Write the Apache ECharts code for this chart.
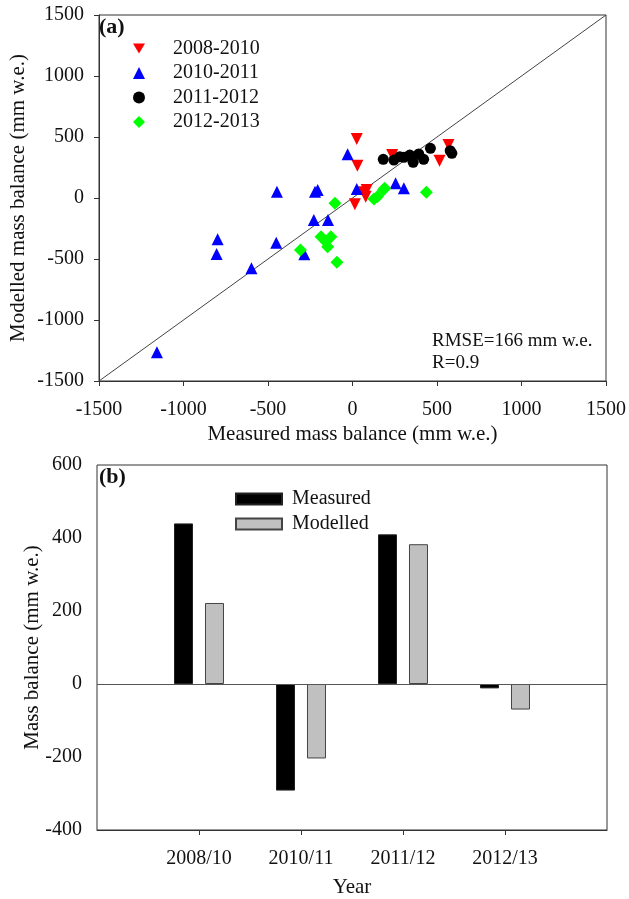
<!DOCTYPE html>
<html>
<head>
<meta charset="utf-8">
<script src="https://cdn.jsdelivr.net/npm/echarts@6/dist/echarts.min.js"></script>
<style>
  html, body { margin: 0; padding: 0; background: #fff; }
  #chart { width: 629px; height: 899px; }
</style>
</head>
<body>
<div id="chart"></div>
<script>
// (a) measured vs modelled points, [measured, modelled] in mm w.e.
const pts2008 = [[25, 484], [29, 265], [84, 66], [68, 47], [78, 11], [14, -52], [235, 352], [515, 306], [568, 434]];
const pts2010 = [[-1157, -1265], [-804, -459], [-798, -339], [-598, -576], [-451, -366], [-447, 52], [-285, -461],
  [-229, -180], [-145, -180], [-222, 52], [-206, 66], [-29, 358], [25, 74], [255, 121], [304, 80]];
const pts2011 = [[182, 317], [245, 311], [280, 339], [304, 334], [339, 352], [359, 293], [392, 361], [421, 317],
  [461, 407], [578, 388], [588, 366]];
const pts2012 = [[-104, -43], [-186, -317], [-128, -317], [-157, -358], [-147, -399], [-308, -426], [-92, -527],
  [127, -8], [147, 11], [190, 80], [182, 66], [437, 48]];
const oneToOne = [[-1500, -1500], [1500, 1500]];

// (b) annual mass balance
const years = ['', '2008/10', '2010/11', '2011/12', '2012/13', ''];
const measured = [null, 440, -292, 410, -12, null];
const modelled = [null, 222, -204, 383, -70, null];

const font = 'Liberation Serif';
const ink = '#111';

const chart = echarts.init(document.getElementById('chart'));

// fresh axis object each time so nothing is shared between axes
function axis(extra, labelMargin) {
  return Object.assign({
    axisLine: { onZero: false, lineStyle: { color: '#333' } },
    axisTick: { inside: false, length: 5, lineStyle: { color: '#333' } },
    splitLine: { show: false },
    axisLabel: { fontFamily: font, fontSize: 20, color: ink, margin: labelMargin, formatter: (v) => String(v) },
    nameLocation: 'middle',
    nameMoveOverlap: false,
    nameTextStyle: { fontFamily: font, fontSize: 21, color: ink }
  }, extra);
}

const option = {
  animation: false,
  backgroundColor: '#fff',
  textStyle: { fontFamily: font },
  grid: [
    { left: 97, top: 15, width: 510, height: 366, show: true, borderColor: '#333', borderWidth: 1 },
    { left: 97, top: 465, width: 510, height: 365, show: true, borderColor: '#333', borderWidth: 1 }
  ],
  xAxis: [
    axis({ type: 'value', gridIndex: 0, min: -1500, max: 1500, interval: 500,
      name: 'Measured mass balance (mm w.e.)', nameGap: 43 }, 19),
    axis({ type: 'category', gridIndex: 1, data: years, boundaryGap: false,
      axisTick: { length: 5, lineStyle: { color: '#333' }, interval: (i) => i > 0 && i < 5 },
      name: 'Year', nameGap: 47 }, 19)
  ],
  yAxis: [
    axis({ type: 'value', gridIndex: 0, min: -1500, max: 1500, interval: 500,
      name: 'Modelled mass balance (mm w.e.)', nameGap: 70 }, 15),
    axis({ type: 'value', gridIndex: 1, min: -400, max: 600, interval: 200,
      name: 'Mass balance (mm w.e.)', nameGap: 54 }, 15)
  ],
  legend: [
    {
      data: [
        { name: '2008-2010', icon: 'path://M0,0 L12,0 L6,10 Z' },
        '2010-2011', '2011-2012', '2012-2013'
      ],
      orient: 'vertical', left: 133, top: 38.5, padding: 0, itemWidth: 12, itemHeight: 12, itemGap: 4.5,
      textStyle: { fontFamily: font, fontSize: 20, color: ink, lineHeight: 20, padding: [0, 0, 0, 23] }
    },
    {
      data: ['Measured', 'Modelled'],
      orient: 'vertical', left: 235, top: 489, padding: 0, itemWidth: 46, itemHeight: 11, itemGap: 5, icon: 'rect',
      textStyle: { fontFamily: font, fontSize: 20, color: ink, lineHeight: 20, padding: [0, 0, 0, 5] }
    }
  ],
  graphic: [
    { type: 'text', left: 99, top: 16, style: { text: '(a)', font: 'bold 22px "Liberation Serif"', fill: ink } },
    { type: 'text', left: 99, top: 466, style: { text: '(b)', font: 'bold 22px "Liberation Serif"', fill: ink } },
    { type: 'text', left: 432, top: 332, style: { text: 'RMSE=166 mm w.e.', font: '19px "Liberation Serif"', fill: ink } },
    { type: 'text', left: 432, top: 354, style: { text: 'R=0.9', font: '19px "Liberation Serif"', fill: ink } }
  ],
  series: [
    {
      name: '1:1', type: 'line', xAxisIndex: 0, yAxisIndex: 0, data: oneToOne,
      showSymbol: false, symbol: 'none', lineStyle: { color: '#444', width: 1 }, silent: true, z: 1
    },
    {
      name: '2008-2010', type: 'scatter', xAxisIndex: 0, yAxisIndex: 0, data: pts2008,
      symbol: 'triangle', symbolRotate: 180, symbolSize: 12, itemStyle: { color: '#ff0000', opacity: 1 }, z: 3
    },
    {
      name: '2010-2011', type: 'scatter', xAxisIndex: 0, yAxisIndex: 0, data: pts2010,
      symbol: 'triangle', symbolSize: 12, itemStyle: { color: '#0000ff', opacity: 1 }, z: 3
    },
    {
      name: '2011-2012', type: 'scatter', xAxisIndex: 0, yAxisIndex: 0, data: pts2011,
      symbol: 'circle', symbolSize: 11, itemStyle: { color: '#000000', opacity: 1 }, z: 4
    },
    {
      name: '2012-2013', type: 'scatter', xAxisIndex: 0, yAxisIndex: 0, data: pts2012,
      symbol: 'diamond', symbolSize: 13, itemStyle: { color: '#00ff00', opacity: 1 }, z: 3
    },
    {
      name: 'Measured', type: 'bar', xAxisIndex: 1, yAxisIndex: 1, data: measured,
      barWidth: 19, barGap: '63%', itemStyle: { color: '#000', borderColor: '#222', borderWidth: 1 },
      markLine: {
        silent: true, symbol: 'none', label: { show: false },
        lineStyle: { color: '#555', width: 1, type: 'solid' },
        data: [{ yAxis: 0 }]
      }
    },
    {
      name: 'Modelled', type: 'bar', xAxisIndex: 1, yAxisIndex: 1, data: modelled,
      barWidth: 19, itemStyle: { color: '#c0c0c0', borderColor: '#444', borderWidth: 1 }
    }
  ]
};

chart.setOption(option);
</script>
</body>
</html>
